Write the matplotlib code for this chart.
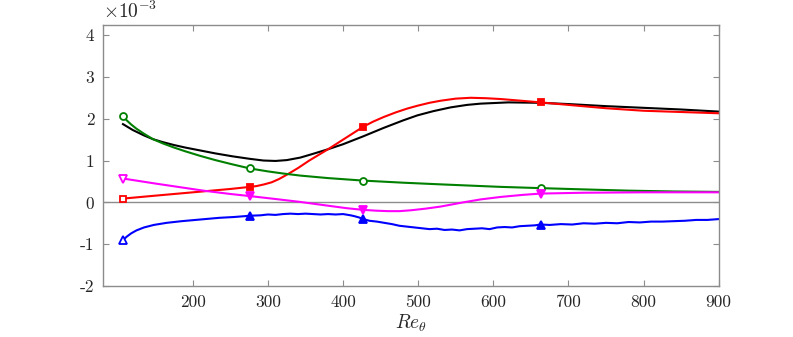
import numpy as np
import matplotlib
matplotlib.use("Agg")
import matplotlib.pyplot as plt
from matplotlib.ticker import FuncFormatter

plt.rcParams['font.family'] = ['cmr10', 'DejaVu Serif']
plt.rcParams['mathtext.fontset'] = 'cm'
plt.rcParams['axes.unicode_minus'] = False

# values in units of 1e-3
mark_re = [107, 276, 427, 663]

black_re = [107, 120, 135, 147, 160, 175, 190, 210, 230, 253, 276, 294, 310, 325, 343,
            360, 380, 400, 427, 454, 480, 499, 520, 543, 565, 583, 620, 663, 700, 750,
            800, 850, 900]
black_val = [1.87, 1.73, 1.60, 1.51, 1.44, 1.37, 1.31, 1.24, 1.17, 1.10, 1.04, 1.00, 0.99,
             1.01, 1.07, 1.16, 1.27, 1.39, 1.58, 1.78, 1.96, 2.08, 2.18, 2.27, 2.33, 2.36,
             2.39, 2.38, 2.35, 2.30, 2.26, 2.22, 2.17]

red_re = [107, 150, 200, 250, 276, 285, 295, 305, 315, 327, 340, 355, 380, 400, 427, 440,
          454, 470, 485, 499, 515, 530, 550, 570, 590, 610, 630, 663, 700, 750, 800, 850,
          900]
red_val = [0.09, 0.16, 0.24, 0.32, 0.37, 0.39, 0.43, 0.48, 0.56, 0.68, 0.82, 1.00, 1.27,
           1.50, 1.81, 1.93, 2.04, 2.15, 2.24, 2.31, 2.38, 2.43, 2.48, 2.50, 2.49, 2.47,
           2.44, 2.39, 2.33, 2.25, 2.19, 2.16, 2.13]

green_re = [107, 112, 118, 125, 135, 147, 160, 175, 190, 210, 230, 250, 276, 300, 320, 343,
            380, 427, 480, 530, 583, 610, 663, 720, 780, 840, 900]
green_val = [2.06, 1.96, 1.86, 1.76, 1.64, 1.51, 1.41, 1.31, 1.22, 1.11, 1.01, 0.92, 0.81,
             0.74, 0.69, 0.64, 0.58, 0.52, 0.47, 0.43, 0.39, 0.37, 0.34, 0.31, 0.28, 0.26,
             0.25]

magenta_re = [107, 150, 214, 250, 276, 310, 343, 380, 405, 427, 445, 460, 475, 490, 510,
              530, 560, 583, 610, 640, 663, 720, 800, 900]
magenta_val = [0.57, 0.45, 0.28, 0.20, 0.15, 0.08, 0.01, -0.08, -0.14, -0.18, -0.20, -0.21,
               -0.21, -0.19, -0.15, -0.10, 0.00, 0.07, 0.13, 0.18, 0.21, 0.23, 0.24, 0.24]

blue_re = [107, 112, 118, 125, 135, 148, 165, 185, 210, 235, 255, 276, 290, 300, 310, 320,
           330, 340, 350, 360, 370, 380, 390, 400, 410, 415, 421, 427, 435, 445, 455, 465,
           475, 485, 495, 505, 515, 525, 535, 545, 555, 565, 575, 585, 595, 605, 615, 625,
           635, 645, 655, 663, 675, 690, 705, 720, 735, 750, 765, 780, 795, 810, 825, 840,
           855, 870, 885, 900]
blue_val = [-0.90, -0.82, -0.74, -0.67, -0.60, -0.54, -0.49, -0.45, -0.41, -0.37, -0.35,
            -0.32, -0.31, -0.29, -0.30, -0.28, -0.27, -0.28, -0.27, -0.28, -0.29, -0.28,
            -0.29, -0.28, -0.31, -0.33, -0.36, -0.40, -0.44, -0.46, -0.49, -0.52, -0.56,
            -0.58, -0.60, -0.62, -0.64, -0.63, -0.66, -0.65, -0.67, -0.64, -0.63, -0.62,
            -0.64, -0.60, -0.59, -0.60, -0.57, -0.56, -0.55, -0.53, -0.54, -0.52, -0.53,
            -0.50, -0.51, -0.49, -0.50, -0.47, -0.48, -0.46, -0.46, -0.45, -0.44, -0.42,
            -0.42, -0.40]

xticks = [200, 300, 400, 500, 600, 700, 800, 900]
yticks = [-2, -1, 0, 1, 2, 3, 4]

fig = plt.figure(figsize=(7.93, 3.37), dpi=100)
ax = fig.add_axes([0.1295, 0.1513, 0.7768, 0.7745])

gray = '0.55'
ax.axhline(0, color=gray, lw=1.0, zorder=1)


def draw(x, y, color, marker, ms, fill_later=True):
    x = np.asarray(x)
    y = np.asarray(y)
    idx = np.where(np.isin(x, mark_re))[0]
    ax.plot(x, y, color=color, lw=1.5)
    ax.plot(x[idx[:1]], y[idx[:1]], ls='none', marker=marker, ms=ms, mfc='white',
            mec=color, mew=1.3)
    face = color if fill_later else 'white'
    ax.plot(x[idx[1:]], y[idx[1:]], ls='none', marker=marker, ms=ms, mfc=face,
            mec=color, mew=1.3)


ax.plot(black_re, black_val, color='k', lw=1.5)
draw(red_re, red_val, '#ff0000', 's', 4.3)
draw(green_re, green_val, '#008000', 'o', 5, fill_later=False)
draw(magenta_re, magenta_val, '#ff00ff', 'v', 6)
draw(blue_re, blue_val, '#0000ff', '^', 6)

ax.set_xlim(80, 900)
ax.set_ylim(-2, 4.24)
ax.set_xticks(xticks)
ax.set_yticks(yticks)
ax.xaxis.set_major_formatter(FuncFormatter(lambda v, p: f'{v:g}'))
ax.yaxis.set_major_formatter(FuncFormatter(lambda v, p: f'{v:g}'))
ax.tick_params(direction='in', length=4, width=0.8, color=gray, labelsize=12.5,
               labelcolor='#262626', top=True, right=True, pad=6)
for s in ax.spines.values():
    s.set_color(gray)
    s.set_linewidth(1.0)

ax.text(0.0, 1.012, r'$\times10^{-3}$', transform=ax.transAxes, fontsize=14,
        color='#262626', ha='left', va='bottom')
ax.set_xlabel(r'$Re_\theta$', fontsize=14, color='#262626', labelpad=2)

fig.savefig('out.png', dpi=100)
